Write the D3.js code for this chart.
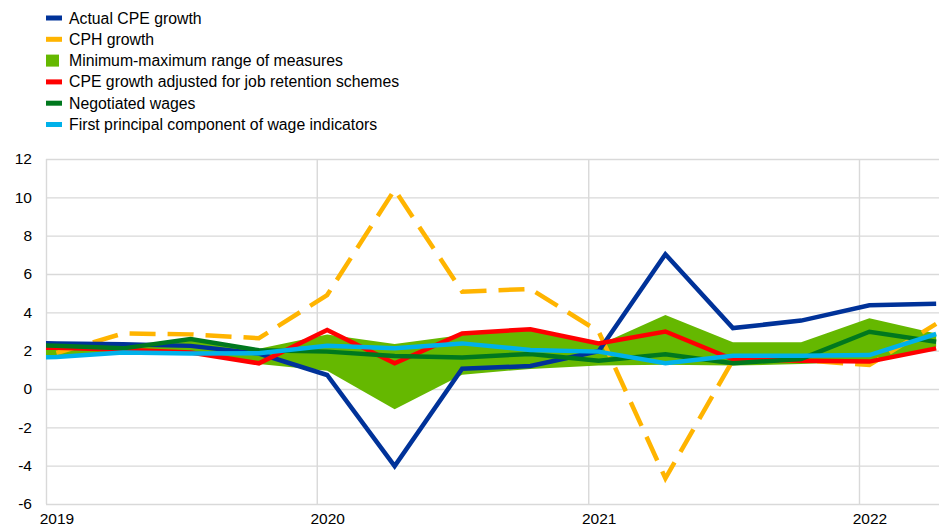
<!DOCTYPE html>
<html>
<head>
<meta charset="utf-8">
<script src="https://cdn.jsdelivr.net/npm/d3@7"></script>
<style>
  html, body { margin: 0; padding: 0; background: #fff; }
  svg { display: block; font-family: "Liberation Sans", Arial, sans-serif; }
</style>
</head>
<body>
<svg id="chart" width="939" height="528"></svg>
<script>
// Quarterly observations (dated mid-first-month of each quarter)
const quarters = ["2018-10-15", "2019-01-15", "2019-04-15", "2019-07-15", "2019-10-15",
  "2020-01-15", "2020-04-15", "2020-07-15", "2020-10-15",
  "2021-01-15", "2021-04-15", "2021-07-15", "2021-10-15",
  "2022-01-15", "2022-04-15"];

const actualCPE   = [2.45, 2.38, 2.33, 2.25, 1.85, 0.73, -4.02, 1.06, 1.2, 1.97, 7.03, 3.18, 3.57, 4.37, 4.45];
const cphGrowth   = [null, 1.88, 2.9, 2.85, 2.65, 4.9, 10.4, 5.08, 5.22, 3.0, -4.66, 1.5, 1.5, 1.25, 3.4];
const rangeMin    = [1.6, 1.7, 1.9, 1.85, 1.3, 0.95, -1.06, 0.75, 1.05, 1.22, 1.27, 1.22, 1.3, 1.45, 2.2];
const rangeMax    = [2.3, 2.3, 2.25, 2.55, 2.1, 2.85, 2.35, 2.82, 3.05, 2.3, 3.86, 2.44, 2.44, 3.69, 2.9];
const cpeAdjusted = [2.2, 2.15, 2.05, 1.9, 1.34, 3.08, 1.34, 2.9, 3.12, 2.38, 3.0, 1.55, 1.48, 1.43, 2.12];
const negotiated  = [2.3, 2.26, 2.12, 2.61, 2.02, 1.95, 1.72, 1.65, 1.83, 1.48, 1.81, 1.34, 1.57, 2.99, 2.47];
const firstPC     = [1.62, 1.67, 1.9, 1.85, 1.86, 2.26, 2.12, 2.38, 2.04, 1.95, 1.34, 1.74, 1.74, 1.77, 2.87];

const yearGrid   = ["2019-01-01", "2020-01-01", "2021-01-01", "2022-01-01"];
const yearLabels = ["2019-01-15", "2020-01-15", "2021-01-15", "2022-01-15"];
const yTicks     = [-6, -4, -2, 0, 2, 4, 6, 8, 10, 12];

const legendItems = [
  { label: "Actual CPE growth", color: "#003299", kind: "line" },
  { label: "CPH growth", color: "#ffb400", kind: "line" },
  { label: "Minimum-maximum  range of measures", color: "#65b800", kind: "box" },
  { label: "CPE growth adjusted for job retention schemes", color: "#ff0000", kind: "line" },
  { label: "Negotiated wages", color: "#00781e", kind: "line" },
  { label: "First principal component of wage indicators", color: "#00b1ea", kind: "line" }
];

const parse = d3.timeParse("%Y-%m-%d");
const dates = quarters.map(parse);

const svg = d3.select("#chart");
const W = 939, H = 528;
const plot = { left: 46, right: 939, top: 159, bottom: 504 };

const x = d3.scaleTime()
  .domain([parse("2019-01-01"), parse("2022-01-01")])
  .range([plot.left, 859]);
const y = d3.scaleLinear().domain([-6, 12]).range([plot.bottom, plot.top]);

// Grid: horizontal lines
svg.append("g")
  .attr("transform", `translate(${plot.left},0)`)
  .call(d3.axisLeft(y).tickValues(yTicks).tickSize(-(plot.right - plot.left)).tickFormat(""))
  .call(g => g.select(".domain").remove())
  .call(g => g.selectAll(".tick line").attr("stroke", "#d9d9d9").attr("stroke-width", 1.4));

// Grid: vertical year lines
svg.append("g")
  .attr("transform", `translate(0,${plot.bottom})`)
  .call(d3.axisBottom(x).tickValues(yearGrid.map(parse)).tickSize(-(plot.bottom - plot.top)).tickFormat(""))
  .call(g => g.select(".domain").remove())
  .call(g => g.selectAll(".tick line").attr("stroke", "#d9d9d9").attr("stroke-width", 1.4));

// Y tick labels (plain hyphen for negatives)
svg.append("g")
  .attr("transform", `translate(32,0)`)
  .call(d3.axisLeft(y).tickValues(yTicks).tickSize(0).tickPadding(0).tickFormat(d => String(d)))
  .call(g => g.select(".domain").remove())
  .call(g => g.selectAll("text").attr("fill", "#000").attr("font-size", "15.5px")
    .attr("font-family", "Liberation Sans, Arial, sans-serif"));

// X tick labels
svg.append("g")
  .attr("transform", `translate(0,${plot.bottom})`)
  .call(d3.axisBottom(x).tickValues(yearLabels.map(parse)).tickSize(0).tickPadding(9).tickFormat(d3.timeFormat("%Y")))
  .call(g => g.select(".domain").remove())
  .call(g => g.selectAll("text").attr("fill", "#000").attr("font-size", "15.5px")
    .attr("font-family", "Liberation Sans, Arial, sans-serif"));

// Clip series to the plot area
svg.append("defs").append("clipPath").attr("id", "plotClip")
  .append("rect").attr("x", plot.left).attr("y", 0).attr("width", plot.right - plot.left).attr("height", H);

const series = svg.append("g").attr("clip-path", "url(#plotClip)");

const band = dates.map((d, i) => ({ d, lo: rangeMin[i], hi: rangeMax[i] }));
series.append("path")
  .datum(band)
  .attr("fill", "#65b800")
  .attr("d", d3.area().x(p => x(p.d)).y0(p => y(p.lo)).y1(p => y(p.hi)));

const line = d3.line()
  .defined(p => p.v !== null)
  .x(p => x(p.d))
  .y(p => y(p.v));

function drawLine(values, color, dash) {
  const pts = dates.map((d, i) => ({ d, v: values[i] }));
  series.append("path")
    .datum(pts)
    .attr("fill", "none")
    .attr("stroke", color)
    .attr("stroke-width", 4.5)
    .attr("stroke-linejoin", "miter")
    .attr("stroke-dasharray", dash || null)
    .attr("d", line);
}

drawLine(cphGrowth, "#ffb400", "26,12");
drawLine(actualCPE, "#003299");
drawLine(cpeAdjusted, "#ff0000");
drawLine(negotiated, "#00781e");
drawLine(firstPC, "#00b1ea");

// Legend
const legend = svg.append("g");
legendItems.forEach((item, i) => {
  const cy = 18 + i * 21.3;
  if (item.kind === "box") {
    legend.append("rect").attr("x", 46).attr("y", cy - 6).attr("width", 13).attr("height", 12).attr("fill", item.color);
  } else {
    legend.append("rect").attr("x", 46).attr("y", cy - 2.5).attr("width", 16).attr("height", 5).attr("fill", item.color);
  }
  legend.append("text")
    .attr("x", 69).attr("y", cy)
    .attr("dy", "0.35em")
    .attr("font-size", "15.8px")
    .attr("fill", "#000")
    .text(item.label);
});
</script>
</body>
</html>
